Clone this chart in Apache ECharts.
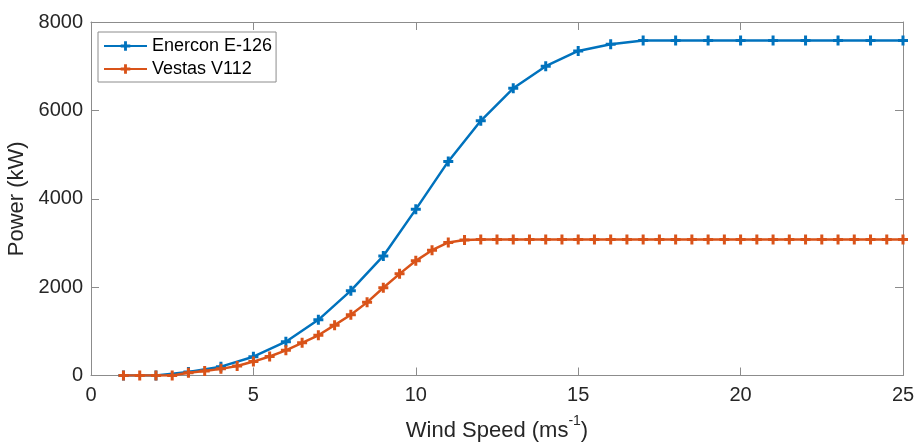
<!DOCTYPE html>
<html>
<head>
<meta charset="utf-8">
<script src="https://cdn.jsdelivr.net/npm/echarts@6/dist/echarts.min.js"></script>
<style>html,body{margin:0;padding:0;background:#fff}#c{width:915px;height:443px}</style>
</head>
<body>
<div id="c"></div>
<script>
const enerconSpeeds = [1,2,3,4,5,6,7,8,9,10,11,12,13,14,15,16,17,18,19,20,21,22,23,24,25];
const enerconPower = [0,0,80,200,425,765,1260,1920,2705,3760,4845,5765,6500,7000,7345,7495,7580,7580,7580,7580,7580,7580,7580,7580,7580];
const vestasSpeeds = [1,1.5,2,2.5,3,3.5,4,4.5,5,5.5,6,6.5,7,7.5,8,8.5,9,9.5,10,10.5,11,11.5,12,12.5,13,13.5,14,14.5,15,15.5,16,16.5,17,17.5,18,18.5,19,19.5,20,20.5,21,21.5,22,22.5,23,23.5,24,24.5,25];
const vestasPower = [0,0,0,0,60,100,150,215,315,430,570,740,910,1140,1375,1655,1985,2300,2595,2835,3010,3065,3075,3075,3075,3075,3075,3075,3075,3075,3075,3075,3075,3075,3075,3075,3075,3075,3075,3075,3075,3075,3075,3075,3075,3075,3075,3075,3075];
const xTicks = [0,5,10,15,20,25];
const yTicks = [0,2000,4000,6000,8000];
const seriesNames = ['Enercon E-126','Vestas V112'];

const plus = 'path://M3.5,0H6.5V3.5H10V6.5H6.5V10H3.5V6.5H0V3.5H3.5Z';
const font = 'Liberation Sans, Arial, Helvetica, sans-serif';
const boxColor = '#8c8c8c';
const txt = '#262626';

const chart = echarts.init(document.getElementById('c'), null, {renderer:'canvas'});
const axisCommon = {
  axisLine:{show:true,onZero:false,lineStyle:{color:boxColor,width:1}},
  axisTick:{show:true,inside:true,length:8,lineStyle:{color:boxColor,width:1}},
  splitLine:{show:false}
};
chart.setOption({
  animation:false,
  backgroundColor:'#fff',
  textStyle:{fontFamily:font},
  grid:{left:91,right:12,top:22,bottom:67.5,containLabel:false,outerBoundsMode:'none'},
  legend:{
    orient:'vertical', left:98, top:32,
    data:seriesNames,
    backgroundColor:'#fff', borderColor:'#8c8c8c', borderWidth:1,
    padding:[4,4,3,5], itemWidth:43, itemHeight:12, itemGap:3,
    textStyle:{fontSize:18,color:'#000',fontFamily:font,lineHeight:20}
  },
  xAxis:[
    Object.assign({type:'value',min:xTicks[0],max:xTicks[xTicks.length-1],interval:5,position:'bottom',
      name:'{a|Wind Speed (ms}{s|-1}{a|)}',nameLocation:'middle',nameGap:39,
      nameTextStyle:{rich:{a:{fontSize:22,color:txt,fontFamily:font,lineHeight:32},s:{fontSize:14,color:txt,fontFamily:font,verticalAlign:'top',lineHeight:16}}},
      axisLabel:{fontSize:20,color:txt,margin:10,fontFamily:font,formatter:v=>String(v)}}, axisCommon),
    Object.assign({type:'value',min:0,max:25,interval:5,position:'top',axisLabel:{show:false}}, axisCommon)
  ],
  yAxis:[
    Object.assign({type:'value',min:yTicks[0],max:yTicks[yTicks.length-1],interval:2000,position:'left',
      name:'Power (kW)',nameLocation:'middle',nameGap:52,
      nameTextStyle:{fontSize:22,color:txt,fontFamily:font},
      axisLabel:{fontSize:20,color:txt,margin:8,fontFamily:font,formatter:v=>String(v)}}, axisCommon),
    Object.assign({type:'value',min:0,max:8000,interval:2000,position:'right',axisLabel:{show:false}}, axisCommon)
  ],
  series:[
    {name:seriesNames[0],type:'line',xAxisIndex:0,yAxisIndex:0,
     data:enerconSpeeds.map((s,i)=>[s,enerconPower[i]]),
     symbol:plus,symbolSize:10,showSymbol:true,color:'#0072BD',
     lineStyle:{width:2.5,color:'#0072BD'},itemStyle:{color:'#0072BD'},z:2},
    {name:seriesNames[1],type:'line',xAxisIndex:0,yAxisIndex:0,
     data:vestasSpeeds.map((s,i)=>[s,vestasPower[i]]),
     symbol:plus,symbolSize:10,showSymbol:true,color:'#D95319',
     lineStyle:{width:2.5,color:'#D95319'},itemStyle:{color:'#D95319'},z:3}
  ]
});
</script>
</body>
</html>
